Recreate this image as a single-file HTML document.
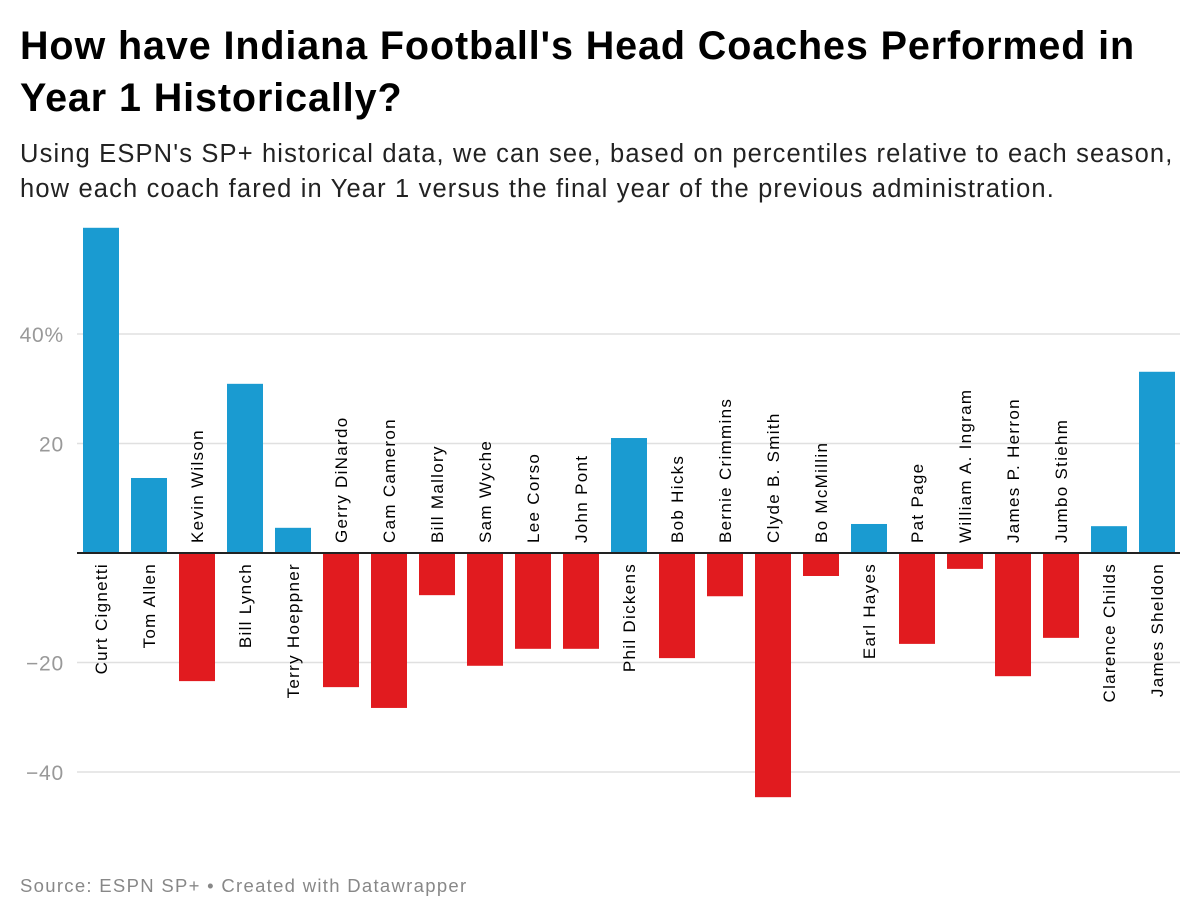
<!DOCTYPE html>
<html><head><meta charset="utf-8"><style>
body{margin:0;background:#fff;font-family:"Liberation Sans",sans-serif;}
#wrap{position:relative;width:1200px;height:920px;overflow:hidden;}
h1{position:absolute;left:20px;top:20px;margin:0;font-size:39.5px;line-height:52px;font-weight:bold;color:#000;width:1180px;white-space:nowrap;letter-spacing:0.9px;}
.sub{position:absolute;left:20px;top:137px;font-size:25.5px;line-height:35px;color:#222;width:1180px;white-space:nowrap;letter-spacing:1.15px;}
.src{position:absolute;left:20px;top:875px;font-size:18.5px;color:#888;letter-spacing:1.3px;}
</style></head><body><div id="wrap">
<h1>How have Indiana Football's Head Coaches Performed in<br>Year 1 Historically?</h1>
<div class="sub">Using ESPN's SP+ historical data, we can see, based on percentiles relative to each season,<br>how each coach fared in Year 1 versus the final year of the previous administration.</div>
<svg id="chart" width="1200" height="920" style="position:absolute;left:0;top:0"></svg>
<div class="src">Source: ESPN SP+ • Created with Datawrapper</div>
</div>
<script>
const coaches=["Curt Cignetti","Tom Allen","Kevin Wilson","Bill Lynch","Terry Hoeppner","Gerry DiNardo","Cam Cameron","Bill Mallory","Sam Wyche","Lee Corso","John Pont","Phil Dickens","Bob Hicks","Bernie Crimmins","Clyde B. Smith","Bo McMillin","Earl Hayes","Pat Page","William A. Ingram","James P. Herron","Jumbo Stiehm","Clarence Childs","James Sheldon"];
const values=[59.4,13.7,-23.4,30.9,4.6,-24.5,-28.3,-7.7,-20.6,-17.5,-17.5,21,-19.2,-7.9,-44.6,-4.2,5.3,-16.6,-2.9,-22.5,-15.5,4.9,33.1];
const ticks=[40,20,-20,-40];
const tickLabels=["40%","20","−20","−40"];
const NS="http://www.w3.org/2000/svg";
const svg=document.getElementById('chart');
const y0=553,ppu=5.475;
const y=v=>y0-v*ppu;
const x0=83,step=48,bw=36;
const x=i=>x0+i*step;
function mk(t,a){const e=document.createElementNS(NS,t);for(const k in a)e.setAttribute(k,a[k]);svg.appendChild(e);return e;}
ticks.forEach((t,i)=>{
 const l=mk('line',{x1:77,x2:1180,y1:y(t),y2:y(t),stroke:'#e0e0e0','stroke-width':1.5});
 
 
 const tx=mk('text',{x:64,y:y(t)+8,'text-anchor':'end','font-size':21,fill:'#999','letter-spacing':0.8});
 tx.textContent=tickLabels[i];
 
 
});
values.forEach((v,i)=>{
 const top=Math.min(y(v),y0),h=Math.abs(y(v)-y0);
 const r=mk('rect',{x:x(i),y:top,width:bw,height:h,fill:v>=0?'#1a9bd1':'#e11b1f'});
 
 
 const cx=x(i)+bw/2+6;
 let t;
 if(v>=0){t=mk('text',{x:0,y:0,'text-anchor':'end','font-size':17,'letter-spacing':1.3,fill:'#000',transform:`translate(${cx},563) rotate(-90)`});}
 else{t=mk('text',{x:0,y:0,'text-anchor':'start','font-size':17,'letter-spacing':1.3,fill:'#000',transform:`translate(${cx},543) rotate(-90)`});}
 t.textContent=coaches[i];
 
 
});
const z=mk('line',{x1:77,x2:1180,y1:y0,y2:y0,stroke:'#222','stroke-width':2});


</script></body></html>
